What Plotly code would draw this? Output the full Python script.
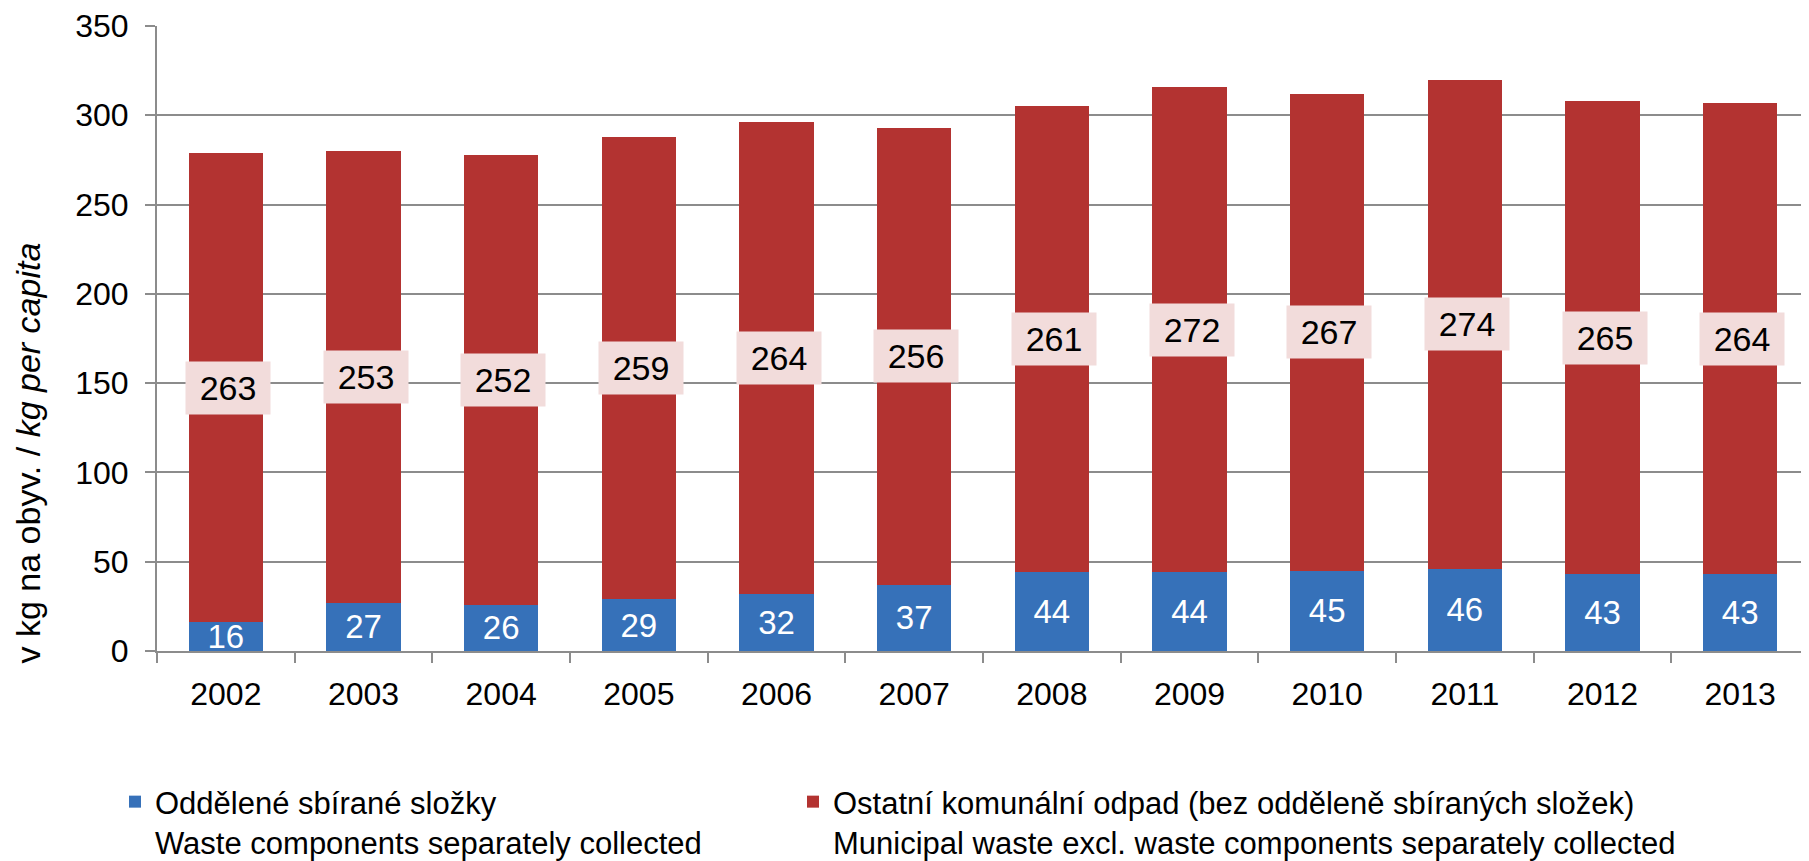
import plotly.graph_objects as go

years = ["2002", "2003", "2004", "2005", "2006", "2007", "2008", "2009", "2010", "2011", "2012", "2013"]
separately_collected = [16, 27, 26, 29, 32, 37, 44, 44, 45, 46, 43, 43]
other_municipal = [263, 253, 252, 259, 264, 256, 261, 272, 267, 274, 265, 264]

name_blue = "Oddělené sbírané složky<br>Waste components separately collected"
name_red = "Ostatní komunální odpad (bez odděleně sbíraných složek)<br>Municipal waste excl. waste components separately collected"
y_title = "v kg na obyv. / <i>kg per capita</i>"
y_ticks = [0, 50, 100, 150, 200, 250, 300, 350]

FONT = "Arial, Liberation Sans, sans-serif"
GRID = "#8C8C8C"
W, H = 1801, 853  # page body has an 8px margin

fig = go.Figure()
fig.add_trace(go.Bar(
    x=years, y=separately_collected, name=name_blue, legend="legend",
    marker=dict(color="#3671B9", line=dict(width=0)),
    text=[str(v) for v in separately_collected],
    textposition="inside", insidetextanchor="middle", constraintext="none",
    textangle=0,
    textfont=dict(color="white", size=33, family=FONT),
    cliponaxis=True,
))
fig.add_trace(go.Bar(
    x=years, y=other_municipal, name=name_red, legend="legend2",
    marker=dict(color="#B33331", line=dict(width=0)),
))

annotations = []
for i, (b, r) in enumerate(zip(separately_collected, other_municipal)):
    annotations.append(dict(
        x=i, y=b + r / 2, xref="x", yref="y", text=str(r), showarrow=False,
        bgcolor="#F2DCDB", width=82, height=50, xshift=2,
        font=dict(size=34, color="black", family=FONT),
    ))
annotations.append(dict(
    x=(20 - 149) / 1652, y=0.316, xref="paper", yref="paper", text=y_title,
    showarrow=False, textangle=-90, xanchor="center", yanchor="middle",
    font=dict(size=34, color="black", family=FONT),
))

legend_common = dict(
    orientation="h", xref="container", yref="container",
    y=1 - 767 / H, xanchor="left", yanchor="top",
    font=dict(size=31, family=FONT, color="black"),
    valign="top", bgcolor="rgba(0,0,0,0)",
)

fig.update_layout(
    width=W, height=H,
    margin=dict(l=149, r=0, t=18, b=210, autoexpand=False),
    paper_bgcolor="white", plot_bgcolor="white",
    barmode="stack", bargap=0.46,
    font=dict(family=FONT, color="black"),
    annotations=annotations,
    showlegend=True,
    legend=dict(x=107 / W, **legend_common),
    legend2=dict(x=785 / W, **legend_common),
)
fig.update_xaxes(
    type="category", range=[-0.5, len(years) - 0.5],
    tickfont=dict(size=32, family=FONT, color="black"),
    showline=True, linecolor=GRID, linewidth=2,
    ticks="outside", tickson="boundaries", ticklen=10, tickwidth=2, tickcolor=GRID,
    ticklabelstandoff=14,
    showgrid=False, automargin=False,
)
fig.update_yaxes(
    range=[0, 350], tickvals=y_ticks,
    tickfont=dict(size=32, family=FONT, color="black"),
    showline=True, linecolor=GRID, linewidth=2,
    showgrid=True, gridcolor=GRID, gridwidth=2,
    ticks="outside", ticklen=10, tickwidth=2, tickcolor=GRID,
    ticklabelstandoff=10, zeroline=False, automargin=False,
)

fig.write_html("out.html")
